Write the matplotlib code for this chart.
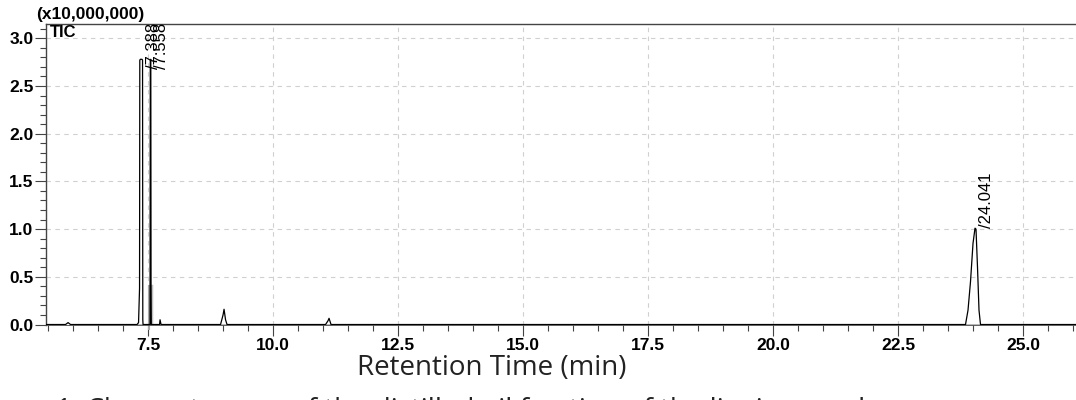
import numpy as np
import matplotlib.pyplot as plt
from matplotlib.ticker import MultipleLocator, FormatStrFormatter

# ---- chromatogram trace (time in min, intensity x1e7) ----
trace_t = [5.46, 5.85, 5.90, 5.95, 7.28, 7.31, 7.33, 7.335, 7.345, 7.38, 7.39, 7.395,
           7.40, 7.54, 7.545, 7.555, 7.56, 7.565, 7.70, 7.73, 7.74, 7.76, 8.95,
           9.00, 9.02, 9.05, 9.08, 11.05, 11.10, 11.12, 11.16, 23.85, 23.90,
           23.95, 24.00, 24.04, 24.06, 24.09, 24.12, 24.15, 26.1]
trace_i = [0.0, 0.0, 0.02, 0.0, 0.0, 0.02, 0.38, 2.77, 2.78, 2.78, 2.77, 0.05,
           0.0, 0.0, 2.77, 2.78, 0.40, 0.0, 0.0, 0.0, 0.05, 0.0, 0.0,
           0.10, 0.16, 0.05, 0.0, 0.0, 0.04, 0.065, 0.0, 0.0, 0.15,
           0.45, 0.85, 1.01, 1.00, 0.60, 0.15, 0.0, 0.0]

# integrated peaks: label, apex time, label anchor height
peak_labels = ["7.388", "7.558", "24.041"]
peak_times = [7.388, 7.558, 24.041]
peak_heights = [2.68, 2.68, 1.01]

# integration markers (grey) start/end of each peak window
integ_start = [7.30, 7.52, 8.96, 11.07, 23.86]
integ_end = [7.52, 7.57, 9.06, 11.16, 24.14]

x_ticks = [7.5, 10.0, 12.5, 15.0, 17.5, 20.0, 22.5, 25.0]
y_ticks = [0.0, 0.5, 1.0, 1.5, 2.0, 2.5, 3.0]

plt.rcParams['font.family'] = ['Liberation Sans', 'DejaVu Sans']

fig = plt.figure(figsize=(10.76, 4.0), dpi=100)
ax = fig.add_axes([0.0428, 0.1875, 0.9572, 0.7525])

# grey integration baselines / fills
for s, e in zip(integ_start, integ_end):
    ax.plot([s, e], [0.0, 0.0], color="#b0b0b0", lw=2.0, zorder=2)
ax.plot([7.52, 7.52], [-0.05, 0.40], color="#a8a8a8", lw=1.5, zorder=2, clip_on=False)
ax.plot([7.555, 7.555], [0.0, 0.40], color="#c0c0c0", lw=2.5, zorder=2)

ax.plot(trace_t, trace_i, color="black", lw=0.9, zorder=3)

for lab, t, h in zip(peak_labels, peak_times, peak_heights):
    ax.text(t + 0.22, h, "/" + lab, rotation=90, ha="center", va="bottom",
            fontsize=12, color="black", zorder=4, clip_on=True)

ax.set_xlim(5.46, 26.06)
ax.set_ylim(-0.005, 3.15)
ax.set_xticks(x_ticks)
ax.set_yticks(y_ticks)
ax.xaxis.set_major_formatter(FormatStrFormatter("%.1f"))
ax.yaxis.set_major_formatter(FormatStrFormatter("%.1f"))
ax.xaxis.set_minor_locator(MultipleLocator(0.5))
ax.yaxis.set_minor_locator(MultipleLocator(0.1))
ax.tick_params(which="major", direction="out", length=8, width=0.8, color="#444444",
               labelsize=12.5, pad=1)
ax.tick_params(which="minor", direction="out", length=4, width=0.8, color="#444444")
for lbl in ax.get_xticklabels() + ax.get_yticklabels():
    lbl.set_fontweight("bold")

ax.grid(True, which="major", color="#d0d0d0", ls=(0, (4, 4)), lw=0.8)
ax.set_axisbelow(True)
for side in ["top", "left", "bottom"]:
    ax.spines[side].set_color("#444444")
    ax.spines[side].set_linewidth(1.0)
ax.spines["right"].set_visible(False)
ax.spines["bottom"].set_linewidth(0.6)

fig.text(0.034, 0.945, "(x10,000,000)", fontsize=12.5, fontweight="bold", va="bottom")
ax.text(0.004, 0.998, "TIC", transform=ax.transAxes, fontsize=12,
        fontweight="bold", va="top", ha="left")

fig.text(0.457, 0.08, "Retention Time (min)", fontsize=20, family="Open Sans",
         ha="center", va="center", color="#222222")
fig.text(0.052, -0.062, "1: Chromatogram of the distilled oil fraction of the lignin sample",
         fontsize=20, family="Open Sans", ha="left", va="bottom", color="#222222")

fig.savefig("out.png", dpi=100)
